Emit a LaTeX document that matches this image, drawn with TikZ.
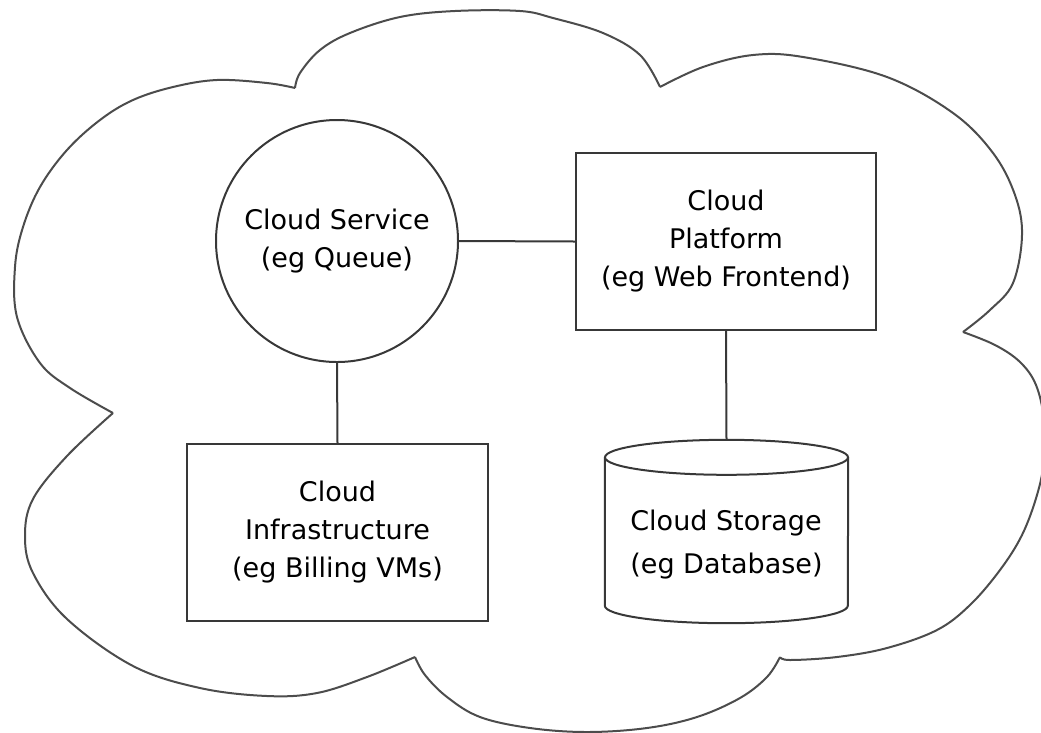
\documentclass[tikz,border=0pt]{standalone}
\usepackage{fontspec}
\setmainfont{DejaVu Sans}
\begin{document}
\begin{tikzpicture}[x=1pt,y=-1pt,
  ln/.style={draw=black!78, line width=2pt},
  lbl/.style={font=\fontsize{27}{38}\selectfont, align=center, text=black},
  box/.style={ln, rectangle, lbl, inner sep=0pt},
  cloudline/.style={draw=black!70, line width=2pt, line join=miter},
]
\useasboundingbox (0,0) rectangle (1041,732);

% cloud outline
\draw[cloudline] plot[smooth, tension=0.6] coordinates {(295,88) (267,83) (217,80) (173,87) (133,100) (100,120) (67,150) (40,187) (23,227) (15,267) (17,317) (40,363) (70,388) (113,413)};
\draw[cloudline] plot[smooth, tension=0.6] coordinates {(295,88) (300,73) (320,50) (350,33) (400,17) (455,11) (520,11) (553,18) (603,33) (640,55) (660,87)};
\draw[cloudline] plot[smooth, tension=0.6] coordinates {(660,87) (703,67) (753,55) (803,57) (887,77) (953,113) (993,153) (1015,195) (1022,235) (1013,283) (990,310) (963,332)};
\draw[cloudline] plot[smooth, tension=0.6] coordinates {(963,332) (995,345) (1020,362) (1036,385) (1044,420) (1044,460) (1037,495) (1022,535) (1000,570) (970,605) (937,630) (887,648) (837,657) (790,660) (780,657)};
\draw[cloudline] plot[smooth, tension=0.6] coordinates {(780,657) (767,677) (740,698) (697,717) (647,728) (587,732) (530,728) (480,717) (447,697) (425,675) (415,657)};
\draw[cloudline] plot[smooth, tension=0.6] coordinates {(415,657) (367,677) (317,693) (267,696) (200,688) (133,666) (67,619) (33,573) (25,536) (33,499) (67,456) (113,413)};

% nodes
\node[ln, circle, minimum size=242pt, lbl, inner sep=0pt] (svc) at (337,241) {Cloud Service\\(eg Queue)};
\node[box, minimum width=300pt, minimum height=177pt] (plat) at (726,241.5) {Cloud\\Platform\\(eg Web Frontend)};
\node[box, minimum width=301pt, minimum height=177pt] (infra) at (337.5,532.5) {Cloud\\Infrastructure\\(eg Billing VMs)};
\node[rectangle, minimum width=243pt, minimum height=183pt, inner sep=0pt] (stor) at (726.5,531.5) {};
\node[lbl, font=\fontsize{27}{43}\selectfont, align=left, anchor=center] (storlbl) at ([yshift=-13pt]stor.center) {Cloud Storage\\(eg Database)};

% cylinder outline
\draw[ln] ([yshift=-17.5pt]stor.north) ellipse [x radius=121.5pt, y radius=17.5pt];
\draw[ln] ([yshift=-17.5pt]stor.north west) -- ([yshift=17.5pt]stor.south west)
  arc[start angle=180, end angle=360, x radius=121.5pt, y radius=17.5pt]
  -- ([yshift=-17.5pt]stor.north east);

% connectors
\draw[ln] (svc.east) -- (plat.west);
\draw[ln] (svc.south) -- (infra.north);
\draw[ln] (plat.south) -- (stor.north);
\end{tikzpicture}
\end{document}
